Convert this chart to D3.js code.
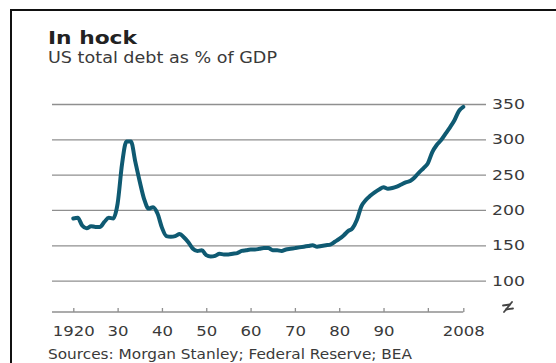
<!DOCTYPE html>
<html>
<head>
<meta charset="utf-8">
<script src="https://cdn.jsdelivr.net/npm/d3@7"></script>
<style>
  body { margin: 0; background: #fff; }
  text { font-family: "DejaVu Sans", sans-serif; }
</style>
</head>
<body>
<script>
// US total debt as % of GDP
let years = d3.range(1920, 2009);
let debt = [
    188, 189, 178, 174, 177, 176, 176, 183, 189, 188,
    209, 265, 297, 297, 268, 240, 215, 202, 204, 195,
    175, 163, 162, 163, 166, 161, 154, 145, 142, 143,
    136, 134, 135, 138, 137, 137, 138, 139, 142, 143,
    144, 144, 145, 146, 146, 143, 143, 142, 144, 145,
    146, 147, 148, 149, 150, 148, 149, 150, 151, 155,
    159, 164, 170, 174, 186, 205, 214, 220, 225, 229,
    232, 230, 231, 233, 236, 239, 241, 246, 253, 259,
    266, 282, 292, 299, 308, 317, 327, 340, 346
];
let yTicks = [100, 150, 200, 250, 300, 350];
let xTicks = [1920, 1930, 1940, 1950, 1960, 1970, 1980, 1990, 2000, 2008];
let xTickLabels = ['1920', '30', '40', '50', '60', '70', '80', '90', '', '2008'];

let width = 556;
let height = 363;
let plotLeft = 52;
let gridRight = 486;
let axisY = 312;

let x = d3.scaleLinear()
    .domain([1920, 2008])
    .range([73.3, 463.3]);

let y = d3.scaleLinear()
    .domain([100, 350])
    .range([280.6, 104]);

let svg = d3.select('body')
    .append('svg')
    .attr('width', width)
    .attr('height', height);

svg.append('rect')
    .attr('width', width)
    .attr('height', height)
    .attr('fill', '#fff');

// frame
svg.append('path')
    .attr('d', 'M11,' + height + ' V10 H' + width)
    .attr('fill', 'none')
    .attr('stroke', '#111')
    .attr('stroke-width', 2);

// titles
svg.append('text')
    .attr('x', 48).attr('y', 44)
    .attr('font-size', 18).attr('font-weight', 'bold')
    .attr('fill', '#222')
    .attr('textLength', 89).attr('lengthAdjust', 'spacingAndGlyphs')
    .text('In hock');

svg.append('text')
    .attr('x', 48).attr('y', 63)
    .attr('font-size', 15)
    .attr('fill', '#3a3a3a')
    .attr('textLength', 229).attr('lengthAdjust', 'spacingAndGlyphs')
    .text('US total debt as % of GDP');

svg.append('text')
    .attr('x', 48).attr('y', 359)
    .attr('font-size', 14)
    .attr('fill', '#3a3a3a')
    .attr('textLength', 364).attr('lengthAdjust', 'spacingAndGlyphs')
    .text('Sources: Morgan Stanley; Federal Reserve; BEA');

// y gridlines + labels on the right
let yAxis = d3.axisRight(y)
    .tickValues(yTicks)
    .tickSize(-(gridRight - plotLeft))
    .tickPadding(6);

let gy = svg.append('g')
    .attr('transform', 'translate(' + gridRight + ',0)')
    .call(yAxis);
gy.select('.domain').remove();
gy.selectAll('.tick line')
    .attr('stroke', '#8f8f8f')
    .attr('stroke-width', 1.3);
gy.selectAll('.tick text')
    .attr('font-family', '"DejaVu Sans", sans-serif')
    .attr('font-size', 14)
    .attr('fill', '#3a3a3a')
    .attr('textLength', d => String(d).length * 11)
    .attr('lengthAdjust', 'spacingAndGlyphs');

// x axis with small upward ticks
let xAxis = d3.axisBottom(x)
    .tickValues(xTicks)
    .tickFormat((d, i) => xTickLabels[i])
    .tickSizeInner(-4)
    .tickSizeOuter(0)
    .tickPadding(14);

let gx = svg.append('g')
    .attr('transform', 'translate(0,' + axisY + ')')
    .call(xAxis);
gx.select('.domain').remove();
gx.append('line')
    .attr('x1', plotLeft).attr('x2', x(2008))
    .attr('stroke', '#8f8f8f')
    .attr('stroke-width', 1.3);
gx.selectAll('.tick line')
    .attr('stroke', '#8f8f8f')
    .attr('stroke-width', 1.3);
gx.selectAll('.tick text')
    .attr('font-family', '"DejaVu Sans", sans-serif')
    .attr('font-size', 14)
    .attr('fill', '#3a3a3a')
    .attr('textLength', (d, i) => xTickLabels[i].length * 10.5)
    .attr('lengthAdjust', 'spacingAndGlyphs');

// axis break mark
let brk = svg.append('g')
    .attr('transform', 'translate(508,307)')
    .attr('stroke', '#444')
    .attr('stroke-width', 1.8)
    .attr('stroke-linecap', 'round')
    .attr('fill', 'none');
brk.append('path').attr('d', 'M-5,-1.5 L2,-2.5 M-2,2.5 L5,1.5');
brk.append('path').attr('d', 'M-4,5 L4,-5');

// the line
let line = d3.line()
    .x((d, i) => x(years[i]))
    .y(d => y(d))
    .curve(d3.curveMonotoneX);

svg.append('path')
    .datum(debt)
    .attr('d', line)
    .attr('fill', 'none')
    .attr('stroke', '#0f5a72')
    .attr('stroke-width', 4)
    .attr('stroke-linejoin', 'round')
    .attr('stroke-linecap', 'round');
</script>
</body>
</html>
